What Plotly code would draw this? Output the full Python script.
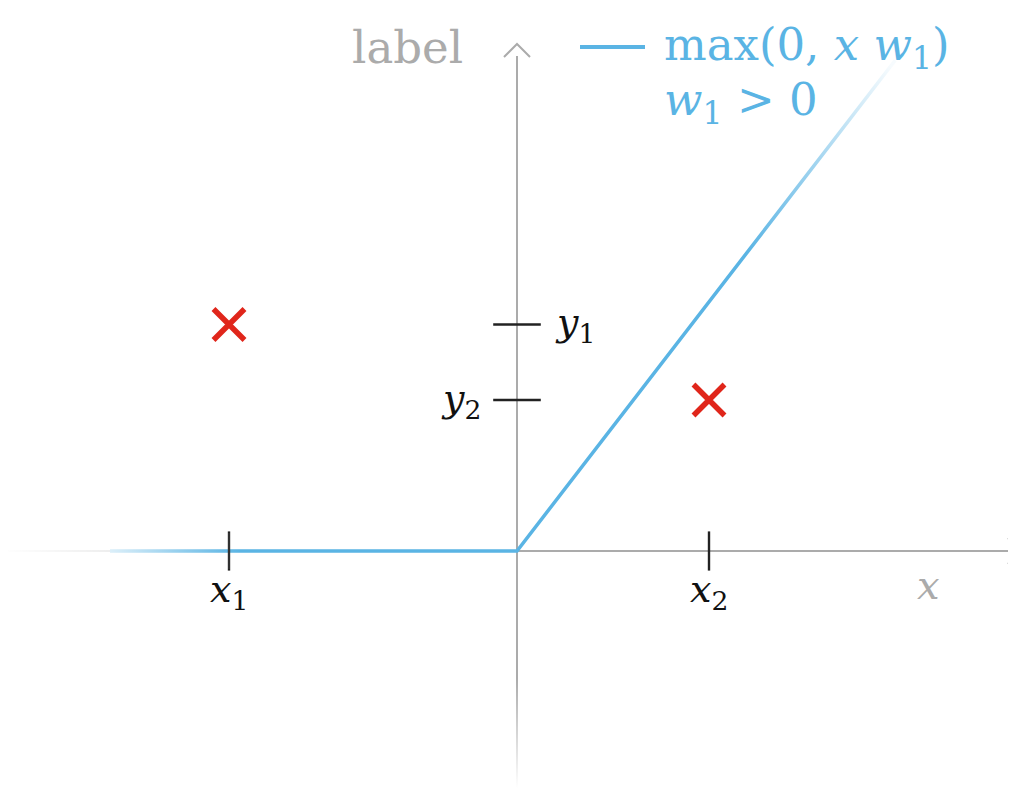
import base64
import plotly.graph_objects as go

# values (data units)
x_ticks = [-1.5, 1.0]
y_ticks = [1.5, 1.0]
x_tick_text = ['<i>x</i><sub>1</sub>', '<i>x</i><sub>2</sub>']
y_tick_text = ['<i>y</i><sub>1</sub>', '<i>y</i><sub>2</sub>']
pts_x = [-1.5, 1.0]
pts_y = [1.5, 1.0]
relu_x = [-2.12, 0.0, 1.97]
relu_y = [0.0, 0.0, 3.25]

BLUE = '#5ab4e4'
GRAY = '#ababab'
RED = '#e0261b'
FONT = 'DejaVu Serif'

PAD = 8                # page margin of the browser
W, H = 1016 - PAD, 788 - PAD
OX, OY = 517 - PAD, 551 - PAD   # pixel position of the origin
SX, SY = 192, 151      # pixels per unit


def X(p):
    return (p - PAD - OX) / SX


def Y(p):
    return (OY - (p - PAD)) / SY


def fade(w, h, x1, y1, x2, y2, stops):
    st = ''.join('<stop offset="%s" stop-color="white" stop-opacity="%s"/>' % s for s in stops)
    svg = ('<svg xmlns="http://www.w3.org/2000/svg" width="%d" height="%d" viewBox="0 0 %d %d" '
           'preserveAspectRatio="none"><defs><linearGradient id="g" gradientUnits="userSpaceOnUse" '
           'x1="%s" y1="%s" x2="%s" y2="%s">%s</linearGradient></defs>'
           '<rect width="%d" height="%d" fill="url(#g)"/></svg>') % (w, h, w, h, x1, y1, x2, y2, st, w, h)
    return 'data:image/svg+xml;base64,' + base64.b64encode(svg.encode()).decode()


fig = go.Figure()

# relu line
fig.add_trace(go.Scatter(x=relu_x, y=relu_y, mode='lines',
                         line=dict(color=BLUE, width=3.5), hoverinfo='skip'))

# tick marks
fig.add_trace(go.Scatter(x=x_ticks, y=[0] * len(x_ticks), mode='markers',
                         marker=dict(symbol='line-ns', size=28, line=dict(color='#222', width=2.4)),
                         hoverinfo='skip'))
fig.add_trace(go.Scatter(x=[0] * len(y_ticks), y=y_ticks, mode='markers',
                         marker=dict(symbol='line-ew', size=34, line=dict(color='#222', width=2.4)),
                         hoverinfo='skip'))

# data points
fig.add_trace(go.Scatter(x=pts_x, y=pts_y, mode='markers',
                         marker=dict(symbol='x-thin', size=31, line=dict(color=RED, width=5.5)),
                         hoverinfo='skip'))

# tick labels
for xv, t in zip(x_ticks, x_tick_text):
    fig.add_annotation(x=xv, y=0, text=t, showarrow=False, yshift=-40,
                       font=dict(family=FONT, size=38, color='#111'))
fig.add_annotation(x=0, y=y_ticks[0], text=y_tick_text[0], showarrow=False,
                   xanchor='left', xshift=36, font=dict(family=FONT, size=38, color='#111'))
fig.add_annotation(x=0, y=y_ticks[1], text=y_tick_text[1], showarrow=False,
                   xanchor='right', xshift=-34, font=dict(family=FONT, size=38, color='#111'))

# axis titles
fig.add_annotation(x=X(928), y=Y(585), text='<i>x</i>', showarrow=False,
                   font=dict(family=FONT, size=40, color=GRAY))
fig.add_annotation(x=X(465), y=Y(47), text='label', showarrow=False, xanchor='right',
                   font=dict(family=FONT, size=45, color=GRAY))

# legend
fig.add_shape(type='line', x0=X(580), x1=X(645), y0=Y(47), y1=Y(47),
              line=dict(color=BLUE, width=4), layer='above')
fig.add_annotation(x=X(662), y=Y(47), text='max(0, <i>x</i> <i>w</i><sub>1</sub>)', showarrow=False,
                   xanchor='left', font=dict(family=FONT, size=45, color=BLUE))
fig.add_annotation(x=X(662), y=Y(102), text='<i>w</i><sub>1</sub> > 0', showarrow=False,
                   xanchor='left', font=dict(family=FONT, size=45, color=BLUE))

# axes with arrows
fig.add_shape(type='line', x0=X(0), x1=X(1012), y0=0, y1=0,
              line=dict(color=GRAY, width=2), layer='below')
fig.add_shape(type='line', x0=0, x1=0, y0=Y(788), y1=Y(56),
              line=dict(color=GRAY, width=2), layer='below')
fig.add_shape(type='path', layer='below', line=dict(color=GRAY, width=2),
              path='M %f %f L %f %f L %f %f' % (X(504), Y(57), X(517), Y(44), X(530), Y(57)))
fig.add_shape(type='path', layer='below', line=dict(color=GRAY, width=2),
              path='M %f %f L %f %f L %f %f' % (X(1008), Y(538), X(1021), Y(551), X(1008), Y(564)))

# fading ends
fig.add_layout_image(source=fade(240, 36, 0, 0, 240, 0,
                                 [(0, 1), (0.45, 0.8), (0.75, 0.35), (1, 0)]),
                     xref='x', yref='y', x=X(0), y=Y(533), sizex=240 / SX, sizey=36 / SY,
                     xanchor='left', yanchor='top', sizing='stretch', layer='above')
fig.add_layout_image(source=fade(40, 110, 0, 0, 0, 110,
                                 [(0, 0), (0.5, 0.5), (1, 1)]),
                     xref='x', yref='y', x=X(497), y=Y(678), sizex=40 / SX, sizey=110 / SY,
                     xanchor='left', yanchor='top', sizing='stretch', layer='above')
fig.add_layout_image(source=fade(326, 300, 50, 250, 200, 65,
                                 [(0, 0), (0.5, 0.45), (1, 0.95)]),
                     xref='x', yref='y', x=X(690), y=Y(0), sizex=326 / SX, sizey=300 / SY,
                     xanchor='left', yanchor='top', sizing='stretch', layer='above')

fig.update_xaxes(range=[X(PAD), X(PAD + W)], visible=False, fixedrange=True)
fig.update_yaxes(range=[Y(PAD + H), Y(PAD)], visible=False, fixedrange=True)
fig.update_layout(width=W, height=H, autosize=False, showlegend=False,
                  margin=dict(l=0, r=0, t=0, b=0),
                  plot_bgcolor='white', paper_bgcolor='white')

fig.write_html('out.html')
